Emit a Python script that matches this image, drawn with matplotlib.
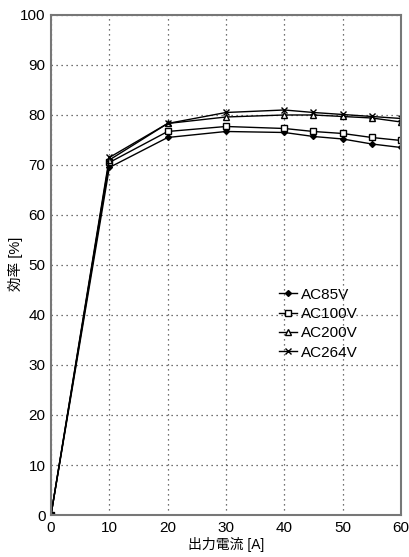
import matplotlib
matplotlib.use("Agg")
import matplotlib.pyplot as plt

plt.rcParams['font.family'] = ['Liberation Sans', 'Noto Sans CJK JP', 'DejaVu Sans']

current = [0, 10, 20, 30, 40, 45, 50, 55, 60]
ac85 = [0, 69.5, 75.5, 76.7, 76.5, 75.7, 75.2, 74.2, 73.5]
ac100 = [0, 70.5, 76.7, 77.7, 77.3, 76.7, 76.3, 75.5, 74.9]
ac200 = [0, 71.0, 78.3, 79.6, 80.0, 80.0, 79.7, 79.4, 78.6]
ac264 = [0, 71.5, 78.3, 80.5, 81.0, 80.5, 80.1, 79.7, 79.3]
labels = ['AC85V', 'AC100V', 'AC200V', 'AC264V']

fig = plt.figure(figsize=(4.09, 5.57), dpi=100)
ax = fig.add_axes([0.1247, 0.0754, 0.8557, 0.8977])

ax.plot(current, ac85, color='black', lw=1, marker='D', ms=3, mfc='black', label=labels[0])
ax.plot(current, ac100, color='black', lw=1, marker='s', ms=4.5, mfc='white', label=labels[1])
ax.plot(current, ac200, color='black', lw=1, marker='^', ms=4.5, mfc='white', label=labels[2])
ax.plot(current, ac264, color='black', lw=1, marker='x', ms=4, mew=1, label=labels[3])

ax.set_xlim(0, 60)
ax.set_ylim(0, 100)
ax.set_xticks(range(0, 61, 10))
ax.set_yticks(range(0, 101, 10))
ax.grid(True, linestyle=(0, (1, 3)), color='#444444', lw=0.9)
ax.tick_params(length=0, labelsize=11, pad=4)
for s in ax.spines.values():
    s.set_color('#777777')
    s.set_linewidth(1.5)

ax.set_xlabel('出力電流 [A]', fontsize=10)
ax.xaxis.set_label_coords(0.5, -0.044)
ax.set_ylabel('効率 [%]', fontsize=10.5)
ax.yaxis.set_label_coords(-0.08, 0.502)

ax.legend(loc='upper left', bbox_to_anchor=(0.63, 0.47), frameon=False,
          handlelength=1.2, handletextpad=0.2, labelspacing=0.35, fontsize=11,
          borderpad=0)

fig.savefig('out.png', dpi=100)
